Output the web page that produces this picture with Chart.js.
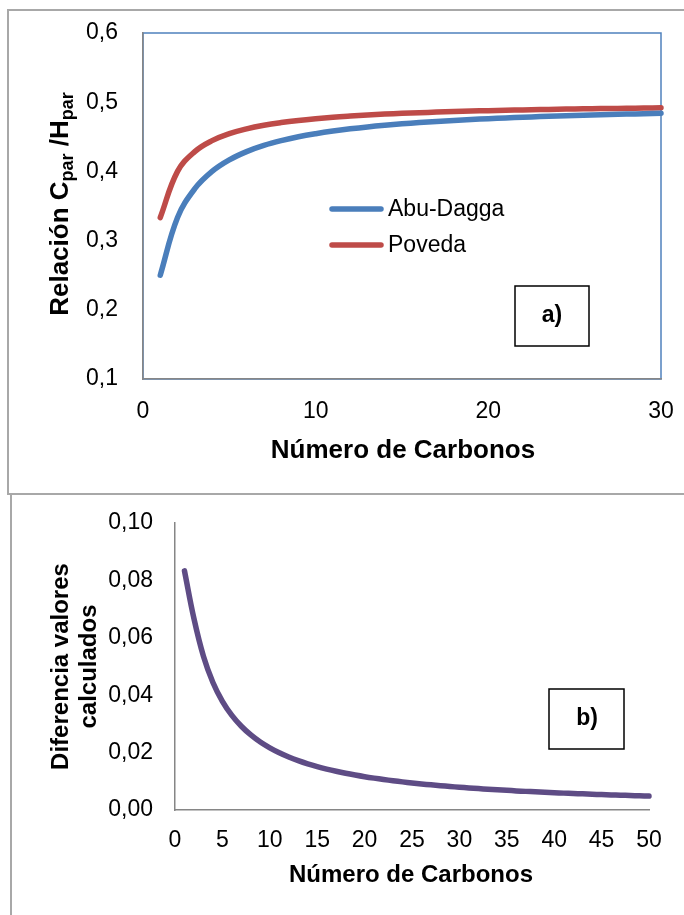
<!DOCTYPE html>
<html><head><meta charset="utf-8">
<script src="https://cdn.jsdelivr.net/npm/chart.js@4"></script>
<style>
html,body{margin:0;padding:0;background:#fff;overflow:hidden;width:684px;height:915px;}
#c1{position:absolute;left:0;top:0;}
#c2{position:absolute;left:0;top:493px;}
.bx{position:absolute;border:2px solid #a8a8a8;box-sizing:border-box;}
</style></head><body>
<div class="bx" style="left:7px;top:9px;width:720px;height:486px;"></div>
<div class="bx" style="left:10px;top:493px;width:720px;height:460px;"></div>
<canvas id="c1" width="684" height="493"></canvas>
<canvas id="c2" width="684" height="422"></canvas>
<script>
// ---------- data ----------
const carbonsA = [1,2,3,4,5,6,7,8,9,10,11,12,13,14,15,16,17,18,19,20,21,22,23,24,25,26,27,28,29,30];
const abuDagga = [0.2500,0.3333,0.3750,0.4000,0.4167,0.4286,0.4375,0.4444,0.4500,0.4545,0.4583,0.4615,0.4643,0.4667,0.4688,0.4706,0.4722,0.4737,0.4750,0.4762,0.4773,0.4783,0.4792,0.4800,0.4808,0.4815,0.4821,0.4828,0.4833,0.4839];
const poveda   = [0.3333,0.4000,0.4286,0.4444,0.4545,0.4615,0.4667,0.4706,0.4737,0.4762,0.4783,0.4800,0.4815,0.4828,0.4839,0.4848,0.4857,0.4865,0.4872,0.4878,0.4884,0.4889,0.4894,0.4898,0.4902,0.4906,0.4909,0.4912,0.4915,0.4918];
const carbonsB = [1,2,3,4,5,6,7,8,9,10,11,12,13,14,15,16,17,18,19,20,21,22,23,24,25,26,27,28,29,30,31,32,33,34,35,36,37,38,39,40,41,42,43,44,45,46,47,48,49,50];
const diferencia = [0.08333,0.06667,0.05357,0.04444,0.03788,0.03297,0.02917,0.02614,0.02368,0.02165,0.01993,0.01846,0.01720,0.01609,0.01512,0.01426,0.01349,0.01280,0.01218,0.01161,0.01110,0.01063,0.01020,0.00980,0.00943,0.00908,0.00877,0.00847,0.00819,0.00793,0.00769,0.00746,0.00724,0.00704,0.00685,0.00666,0.00649,0.00633,0.00617,0.00602,0.00588,0.00575,0.00562,0.00549,0.00538,0.00526,0.00515,0.00505,0.00495,0.00485];
const xTicksA = [0,10,20,30];
const yTicksA = [0.1,0.2,0.3,0.4,0.5,0.6];
const xTicksB = [0,5,10,15,20,25,30,35,40,45,50];
const yTicksB = [0,0.02,0.04,0.06,0.08,0.10];
const seriesNamesA = ['Abu-Dagga','Poveda'];
const xTitle = 'Número de Carbonos';
const yTitleB = ['Diferencia valores','calculados'];

const FF = '"Liberation Sans", Arial, sans-serif';
const AXIS_GRAY = '#868686';

function pts(xs, ys){ return xs.map((x,i)=>({x:x, y:ys[i]})); }
function fmt(dec){ return v => Number(v).toFixed(dec).replace('.', ','); }
function zeroPad(s){ s.paddingLeft=0; s.paddingRight=0; s.paddingTop=0; s.paddingBottom=0; }

// ---------- chart a) ----------
const plotA = {
  id: 'plotA',
  beforeDraw(chart){
    const {ctx, chartArea:a} = chart;
    ctx.save();
    ctx.strokeStyle = '#4f81bd'; ctx.lineWidth = 1.5;
    ctx.strokeRect(a.left, a.top, a.right-a.left, a.bottom-a.top);
    ctx.restore();
  },
  afterDraw(chart){
    const ctx = chart.ctx;
    ctx.save();
    // legend
    chart.data.datasets.forEach((ds, i) => {
      const y = 209 + i*36;
      ctx.strokeStyle = ds.borderColor; ctx.lineWidth = 5.5; ctx.lineCap = 'round';
      ctx.beginPath(); ctx.moveTo(332, y); ctx.lineTo(381, y); ctx.stroke();
      ctx.fillStyle = '#000'; ctx.font = '23px ' + FF;
      ctx.textAlign = 'left'; ctx.textBaseline = 'middle';
      ctx.fillText(ds.label, 388, y + 1);
    });
    // a) box
    ctx.strokeStyle = '#000'; ctx.lineWidth = 1.5;
    ctx.strokeRect(515, 286, 74, 60);
    ctx.font = 'bold 23px ' + FF; ctx.textAlign = 'center'; ctx.textBaseline = 'middle';
    ctx.fillStyle = '#000';
    ctx.fillText('a)', 552, 316);
    // x title
    ctx.font = 'bold 26px ' + FF; ctx.textBaseline = 'alphabetic';
    ctx.fillText(xTitle, 403, 458);
    // y title with subscripts
    const parts = [
      {t:'Relación C', f:'bold 26px ' + FF, dy:0},
      {t:'par', f:'bold 18px ' + FF, dy:5},
      {t:' /H', f:'bold 26px ' + FF, dy:0},
      {t:'par', f:'bold 18px ' + FF, dy:5}
    ];
    let total = 0;
    parts.forEach(p => { ctx.font = p.f; p.w = ctx.measureText(p.t).width; total += p.w; });
    ctx.translate(68, 204); ctx.rotate(-Math.PI/2);
    ctx.textAlign = 'left';
    let cx = -total/2;
    parts.forEach(p => { ctx.font = p.f; ctx.fillText(p.t, cx, p.dy); cx += p.w; });
    ctx.restore();
  }
};

new Chart(document.getElementById('c1'), {
  type: 'line',
  data: {
    datasets: [
      {label: seriesNamesA[0], data: pts(carbonsA, abuDagga), borderColor:'#4a7ebb'},
      {label: seriesNamesA[1], data: pts(carbonsA, poveda), borderColor:'#be4b48'}
    ]
  },
  options: {
    responsive:false, animation:false, devicePixelRatio:1,
    layout:{padding:{left:0, top:33, right:23, bottom:0}},
    datasets:{line:{borderWidth:5.5, pointRadius:0, tension:0.4, borderCapStyle:'round', borderJoinStyle:'round', fill:false, clip:false}},
    plugins:{legend:{display:false}, tooltip:{enabled:false}},
    scales:{
      x:{type:'linear', min:0, max:30,
        afterBuildTicks: s => { s.ticks = xTicksA.map(v=>({value:v})); },
        afterFit: s => { s.height = 114; zeroPad(s); },
        grid:{display:false, drawTicks:false},
        border:{display:true, color:AXIS_GRAY, width:1.5},
        ticks:{color:'#000', font:{family:FF, size:23}, padding:19, maxRotation:0, autoSkip:false}},
      y:{type:'linear', min:0.1, max:0.6,
        afterBuildTicks: s => { s.ticks = yTicksA.map(v=>({value:v})); },
        afterFit: s => { s.width = 143; zeroPad(s); },
        grid:{display:false, drawTicks:false},
        border:{display:true, color:AXIS_GRAY, width:1.5},
        ticks:{color:'#000', font:{family:FF, size:23}, padding:25, callback: fmt(1)}}
    }
  },
  plugins:[plotA]
});

// ---------- chart b) ----------
const plotB = {
  id: 'plotB',
  afterDraw(chart){
    const ctx = chart.ctx;
    ctx.save();
    ctx.strokeStyle = '#000'; ctx.lineWidth = 1.5;
    ctx.strokeRect(549, 196, 75, 60);
    ctx.fillStyle = '#000';
    ctx.font = 'bold 23px ' + FF; ctx.textAlign = 'center'; ctx.textBaseline = 'middle';
    ctx.fillText('b)', 587, 226);
    ctx.font = 'bold 24px ' + FF; ctx.textBaseline = 'alphabetic';
    ctx.fillText(xTitle, 411, 389);
    ctx.font = 'bold 24px ' + FF;
    ctx.translate(0, 173.5); ctx.rotate(-Math.PI/2);
    ctx.fillText(yTitleB[0], 0, 68);
    ctx.fillText(yTitleB[1], 0, 96);
    ctx.restore();
  }
};

new Chart(document.getElementById('c2'), {
  type: 'line',
  data: {
    datasets: [
      {label:'Diferencia', data: pts(carbonsB, diferencia), borderColor:'#5e4c85'}
    ]
  },
  options: {
    responsive:false, animation:false, devicePixelRatio:1,
    layout:{padding:{left:0, top:30, right:35, bottom:0}},
    datasets:{line:{borderWidth:5.5, pointRadius:0, tension:0.4, borderCapStyle:'round', borderJoinStyle:'round', fill:false, clip:false}},
    plugins:{legend:{display:false}, tooltip:{enabled:false}},
    scales:{
      x:{type:'linear', min:0, max:50,
        afterBuildTicks: s => { s.ticks = xTicksB.map(v=>({value:v})); },
        afterFit: s => { s.height = 105; zeroPad(s); },
        grid:{display:false, drawTicks:false},
        border:{display:true, color:AXIS_GRAY, width:1.5},
        ticks:{color:'#000', font:{family:FF, size:23}, padding:17, maxRotation:0, autoSkip:false}},
      y:{type:'linear', min:0, max:0.10,
        afterBuildTicks: s => { s.ticks = yTicksB.map(v=>({value:v})); },
        afterFit: s => { s.width = 175; zeroPad(s); },
        grid:{display:false, drawTicks:false},
        border:{display:true, color:AXIS_GRAY, width:1.5},
        ticks:{color:'#000', font:{family:FF, size:23}, padding:22, callback: fmt(2)}}
    }
  },
  plugins:[plotB]
});
</script>
</body></html>
